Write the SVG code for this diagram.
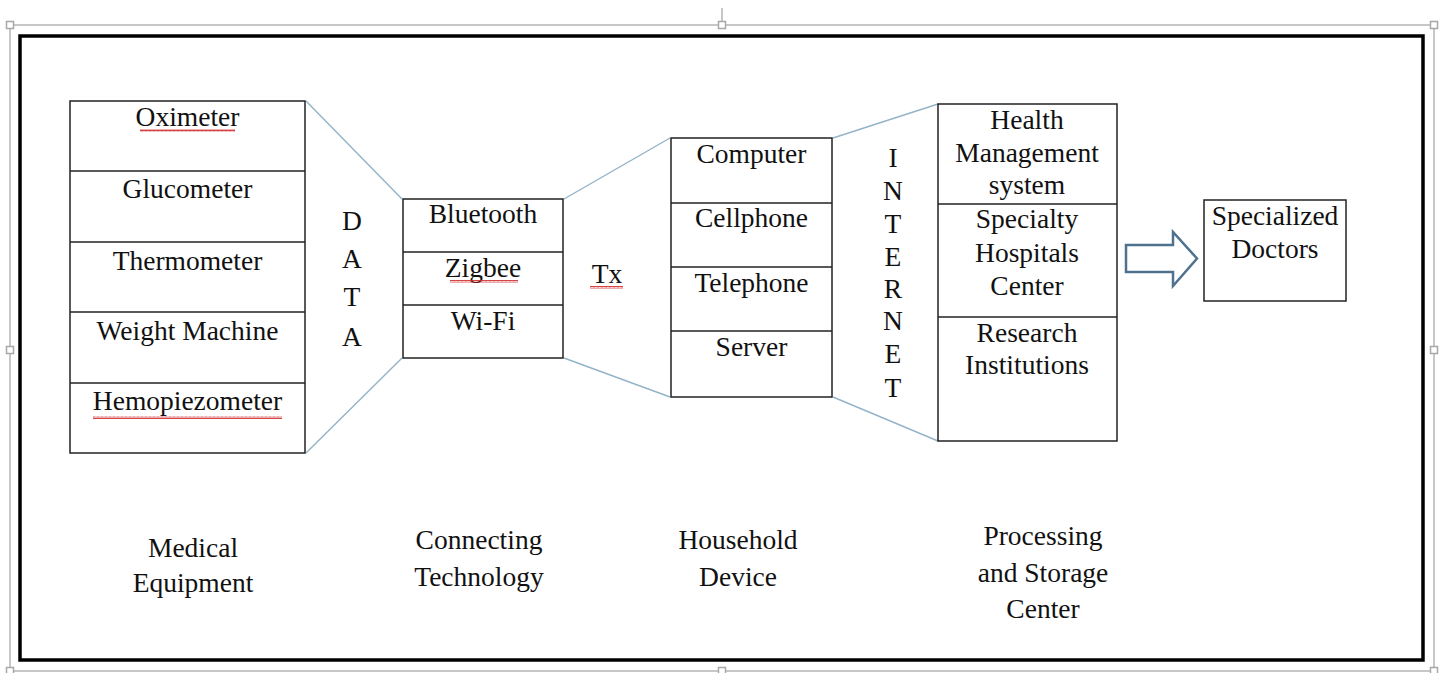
<svg xmlns="http://www.w3.org/2000/svg" width="1442" height="673" viewBox="0 0 1442 673">
<style>
.t{font-size:27.5px;fill:#111;text-anchor:middle}
.box{fill:#fff;stroke:#222;stroke-width:1.5}
.div{stroke:#222;stroke-width:1.5}
.con{stroke:#93b3c9;stroke-width:1.4;fill:none}
.sel{fill:none;stroke:#b5b5b5;stroke-width:1.5}
.h{fill:#fff;stroke:#a8a8a8;stroke-width:1.5}
.sq{fill:url(#squig)}
</style>
<defs>
<pattern id="squig" x="0" y="0" width="4" height="3" patternUnits="userSpaceOnUse">
<path d="M0,2.5 L1,0.5 L2,2.5 L3,0.5 L4,2.5" fill="none" stroke="#d03030" stroke-width="0.9"/>
</pattern>
</defs>
<rect width="1442" height="673" fill="#fff"/>
<g id="selection">
<rect class="sel" x="10" y="25" width="1424" height="646"/>
<line class="sel" x1="722" y1="8" x2="722" y2="22"/>
<rect class="h" x="6.5" y="21.5" width="7" height="7"/>
<rect class="h" x="718.5" y="21.5" width="7" height="7"/>
<rect class="h" x="1430.5" y="21.5" width="7" height="7"/>
<rect class="h" x="6.5" y="346.5" width="7" height="7"/>
<rect class="h" x="1430.5" y="346.5" width="7" height="7"/>
<rect class="h" x="6.5" y="667.5" width="7" height="7"/>
<rect class="h" x="718.5" y="667.5" width="7" height="7"/>
<rect class="h" x="1430.5" y="667.5" width="7" height="7"/>
</g>
<rect id="frame" x="20" y="36" width="1403" height="624" fill="none" stroke="#000" stroke-width="3.5"/>
<g id="connectors">
<line class="con" x1="306" y1="101" x2="402" y2="199"/>
<line class="con" x1="306" y1="453" x2="402" y2="358"/>
<line class="con" x1="564" y1="199" x2="670" y2="138"/>
<line class="con" x1="564" y1="358" x2="670" y2="397"/>
<line class="con" x1="833" y1="138" x2="938" y2="104"/>
<line class="con" x1="833" y1="397" x2="938" y2="441"/>
<path id="block-arrow" d="M1126,245 L1173,245 L1173,232 L1197,258.5 L1173,286 L1173,272 L1126,272 Z" fill="#fff" stroke="#4f7190" stroke-width="2.5" stroke-linejoin="miter"/>
</g>
<g font-family="Liberation Serif, DejaVu Serif, serif">
<g id="medical-equipment">
<rect class="box" x="70" y="101" width="235" height="352"/>
<line class="div" x1="70" y1="171" x2="305" y2="171"/>
<line class="div" x1="70" y1="242" x2="305" y2="242"/>
<line class="div" x1="70" y1="312" x2="305" y2="312"/>
<line class="div" x1="70" y1="383" x2="305" y2="383"/>
<text class="t" x="187.5" y="126">Oximeter</text>
<rect class="sq" x="140" y="129" width="95" height="3"/>
<text class="t" x="187.5" y="198">Glucometer</text>
<text class="t" x="187.5" y="270">Thermometer</text>
<text class="t" x="187.5" y="340">Weight Machine</text>
<text class="t" x="187.5" y="410">Hemopiezometer</text>
<rect class="sq" x="93" y="416" width="189" height="3"/>
</g>
<g id="data-label">
<text class="t" x="352" y="230">D</text>
<text class="t" x="352" y="268">A</text>
<text class="t" x="352" y="306">T</text>
<text class="t" x="352" y="346">A</text>
</g>
<g id="connecting-technology">
<rect class="box" x="403" y="199" width="160" height="159"/>
<line class="div" x1="403" y1="252" x2="563" y2="252"/>
<line class="div" x1="403" y1="305" x2="563" y2="305"/>
<text class="t" x="483" y="223">Bluetooth</text>
<text class="t" x="483" y="277">Zigbee</text>
<rect class="sq" x="450" y="280" width="68" height="3"/>
<text class="t" x="483" y="330">Wi-Fi</text>
</g>
<g id="tx-label">
<text class="t" x="607" y="283">Tx</text>
<rect class="sq" x="590" y="286" width="33" height="3"/>
</g>
<g id="household-device">
<rect class="box" x="671" y="138" width="161" height="259"/>
<line class="div" x1="671" y1="203" x2="832" y2="203"/>
<line class="div" x1="671" y1="267" x2="832" y2="267"/>
<line class="div" x1="671" y1="331" x2="832" y2="331"/>
<text class="t" x="751.5" y="163">Computer</text>
<text class="t" x="751.5" y="227">Cellphone</text>
<text class="t" x="751.5" y="292">Telephone</text>
<text class="t" x="751.5" y="356">Server</text>
</g>
<g id="internet-label">
<text class="t" x="893" y="167">I</text>
<text class="t" x="893" y="200">N</text>
<text class="t" x="893" y="233">T</text>
<text class="t" x="893" y="266">E</text>
<text class="t" x="893" y="298">R</text>
<text class="t" x="893" y="330">N</text>
<text class="t" x="893" y="363">E</text>
<text class="t" x="893" y="397">T</text>
</g>
<g id="processing-center">
<rect class="box" x="938" y="104" width="179" height="337"/>
<line class="div" x1="938" y1="204" x2="1117" y2="204"/>
<line class="div" x1="938" y1="317" x2="1117" y2="317"/>
<text class="t" x="1027" y="129">Health</text>
<text class="t" x="1027" y="162">Management</text>
<text class="t" x="1027" y="194">system</text>
<text class="t" x="1027" y="228">Specialty</text>
<text class="t" x="1027" y="262">Hospitals</text>
<text class="t" x="1027" y="295">Center</text>
<text class="t" x="1027" y="342">Research</text>
<text class="t" x="1027" y="374">Institutions</text>
</g>
<g id="specialized-doctors">
<rect class="box" x="1204" y="200" width="142" height="101"/>
<text class="t" x="1275" y="225">Specialized</text>
<text class="t" x="1275" y="258">Doctors</text>
</g>
<g id="bottom-labels">
<text class="t" x="193" y="557">Medical</text>
<text class="t" x="193" y="592">Equipment</text>
<text class="t" x="479" y="549">Connecting</text>
<text class="t" x="479" y="586">Technology</text>
<text class="t" x="738" y="549">Household</text>
<text class="t" x="738" y="586">Device</text>
<text class="t" x="1043" y="545">Processing</text>
<text class="t" x="1043" y="582">and Storage</text>
<text class="t" x="1043" y="618">Center</text>
</g>
</g>
</svg>
